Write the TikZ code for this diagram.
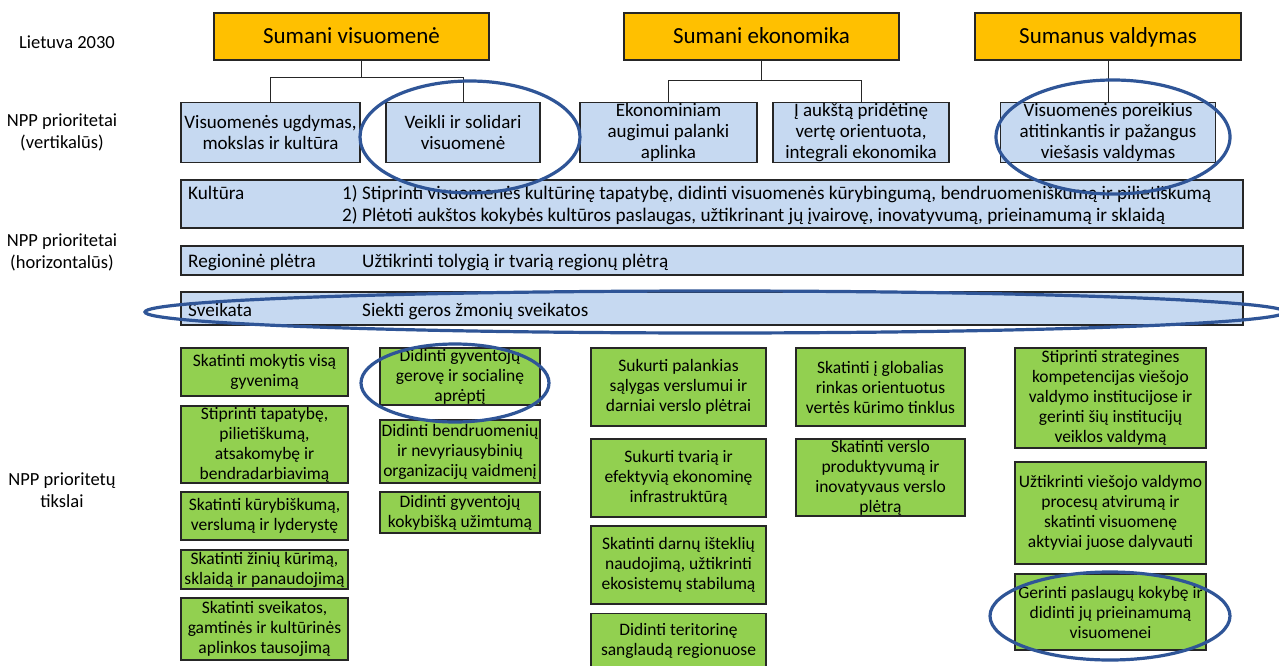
\documentclass[tikz,border=0pt]{standalone}
\usepackage{fontspec}
\setmainfont{Carlito}
\definecolor{gold}{RGB}{255,192,0}
\definecolor{lblue}{RGB}{198,217,241}
\definecolor{lgreen}{RGB}{146,208,80}
\definecolor{ring}{RGB}{47,85,151}
\begin{document}
\begin{tikzpicture}[x=1pt,y=-1pt,
  box/.style={draw=black!85,line width=1.1pt,inner sep=0pt,align=center},
  goldbox/.style={box,fill=gold,font=\fontsize{23}{26}\selectfont,text height=17.5pt,text depth=3.5pt},
  bluebox/.style={box,fill=lblue,font=\fontsize{19}{21}\selectfont},
  band/.style={box,fill=lblue},
  greenbox/.style={box,fill=lgreen,font=\fontsize{17.5}{20}\selectfont},
  lab/.style={align=center,font=\fontsize{18.5}{22}\selectfont},
  btext/.style={anchor=base west,inner sep=0pt,font=\fontsize{19.2}{21}\selectfont},
  conn/.style={draw=black!85,line width=1pt},
  ell/.style={draw=ring,line width=3.2pt}]
\clip (0,0) rectangle (1279,666);
\useasboundingbox (0,0) rectangle (1279,666);
\fill[white] (0,0) rectangle (1279,666);

% left labels
\node[lab] (l1) at (67,42) {Lietuva 2030};
\node[lab] (l2) at (62,132) {NPP prioritetai\\(vertikalūs)};
\node[lab] (l3) at (62,252) {NPP prioritetai\\(horizontalūs)};
\node[lab] (l4) at (62,490) {NPP prioritetų\\tikslai};

% gold
\node[goldbox,minimum width=275,minimum height=47] (G1) at (351.5,36.5) {Sumani visuomenė};
\node[goldbox,minimum width=275,minimum height=47] (G2) at (761.5,36.5) {Sumani ekonomika};
\node[goldbox,minimum width=266,minimum height=47] (G3) at (1108,36.5) {Sumanus valdymas};

% blue
\node[bluebox,minimum width=179,minimum height=60] (B1) at (270.5,132.5) {Visuomenės ugdymas,\\mokslas ir kultūra};
\node[bluebox,minimum width=154,minimum height=60] (B2) at (463,132.5) {Veikli ir solidari\\visuomenė};
\node[bluebox,minimum width=177,minimum height=60] (B3) at (668.5,132.5) {Ekonominiam\\augimui palanki\\aplinka};
\node[bluebox,minimum width=176,minimum height=60] (B4) at (861,132.5) {Į aukštą pridėtinę\\vertę orientuota,\\integrali ekonomika};
\node[bluebox,minimum width=215,minimum height=60] (B5) at (1108,132.5) {Visuomenės poreikius\\atitinkantis ir pažangus\\viešasis valdymas};

% connectors
\draw[conn] ([xshift=9.5pt]G1.south) -- ++(0,17) -| (B1.north);
\draw[conn] ([xshift=9.5pt]G1.south) -- ++(0,17) -| (B2.north);
\draw[conn] (G2.south) -- ++(0,20) -| (B3.north);
\draw[conn] (G2.south) -- ++(0,20) -| (B4.north);
\draw[conn] (G3.south) -- (B5.north);

% bands
\node[band,minimum width=1062,minimum height=48] (K) at (712,204) {};
\node[btext] (Kt) at (188,199) {Kultūra};
\node[btext] (K1) at (342,199) {1) Stiprinti visuomenės kultūrinę tapatybę, didinti visuomenės kūrybingumą, bendruomeniškumą ir pilietiškumą};
\node[btext] (K2) at (342,221) {2) Plėtoti aukštos kokybės kultūros paslaugas, užtikrinant jų įvairovę, inovatyvumą, prieinamumą ir sklaidą};
\node[band,minimum width=1062,minimum height=29] (R) at (712,260.5) {};
\node[btext] (Rt) at (188,267) {Regioninė plėtra};
\node[btext] (R1) at (362,267) {Užtikrinti tolygią ir tvarią regionų plėtrą};
\node[band,minimum width=1062,minimum height=33] (S) at (712,308.5) {};
\node[btext] (St) at (188,316) {Sveikata};
\node[btext] (S1) at (362,316) {Siekti geros žmonių sveikatos};

% green col 1
\node[greenbox,minimum width=167,minimum height=48] (g11) at (264.5,372) {Skatinti mokytis visą\\gyvenimą};
\node[greenbox,minimum width=167,minimum height=77] (g12) at (264.5,444.5) {Stiprinti tapatybę,\\pilietiškumą,\\atsakomybę ir\\bendradarbiavimą};
\node[greenbox,minimum width=167,minimum height=48] (g13) at (264.5,516) {Skatinti kūrybiškumą,\\verslumą ir lyderystę};
\node[greenbox,minimum width=167,minimum height=39] (g14) at (264.5,569.5) {Skatinti žinių kūrimą,\\sklaidą ir panaudojimą};
\node[greenbox,minimum width=167,minimum height=62] (g15) at (264.5,629) {Skatinti sveikatos,\\gamtinės ir kultūrinės\\aplinkos tausojimą};
% col 2
\node[greenbox,minimum width=160,minimum height=57] (g21) at (460,376.5) {Didinti gyventojų\\gerovę ir socialinę\\aprėptį};
\node[greenbox,minimum width=160,minimum height=63] (g22) at (460,451.5) {Didinti bendruomenių\\ir nevyriausybinių\\organizacijų vaidmenį};
\node[greenbox,minimum width=160,minimum height=41] (g23) at (460,512.5) {Didinti gyventojų\\kokybišką užimtumą};
% col 3
\node[greenbox,minimum width=175,minimum height=78] (g31) at (678.5,387) {Sukurti palankias\\sąlygas verslumui ir\\darniai verslo plėtrai};
\node[greenbox,minimum width=175,minimum height=78] (g32) at (678.5,478) {Sukurti tvarią ir\\efektyvią ekonominę\\infrastruktūrą};
\node[greenbox,minimum width=175,minimum height=78] (g33) at (678.5,565) {Skatinti darnų išteklių\\naudojimą, užtikrinti\\ekosistemų stabilumą};
\node[greenbox,minimum width=175,minimum height=78,anchor=north] (g34) at (678.5,613) {Didinti teritorinę\\sanglaudą regionuose\\\strut};
% col 4
\node[greenbox,minimum width=169,minimum height=78] (g41) at (880.5,387) {Skatinti į globalias\\rinkas orientuotus\\vertės kūrimo tinklus};
\node[greenbox,minimum width=169,minimum height=77] (g42) at (880.5,477.5) {Skatinti verslo\\produktyvumą ir\\inovatyvaus verslo\\plėtrą};
% col 5
\node[greenbox,minimum width=191,minimum height=100] (g51) at (1110.5,398) {Stiprinti strategines\\kompetencijas viešojo\\valdymo institucijose ir\\gerinti šių institucijų\\veiklos valdymą};
\node[greenbox,minimum width=191,minimum height=102] (g52) at (1110.5,513) {Užtikrinti viešojo valdymo\\procesų atvirumą ir\\skatinti visuomenę\\aktyviai juose dalyvauti};
\node[greenbox,minimum width=191,minimum height=76] (g53) at (1110.5,612) {Gerinti paslaugų kokybę ir\\didinti jų prieinamumą\\visuomenei};

% rings
\draw[ell] (470,137) ellipse [x radius=110, y radius=56];
\draw[ell] (1113,137) ellipse [x radius=117, y radius=57];
\draw[ell] (715,312) ellipse [x radius=570, y radius=21];
\draw[ell] (455,383) ellipse [x radius=94, y radius=39];
\draw[ell] (1110,616) ellipse [x radius=120, y radius=44];
\end{tikzpicture}
\end{document}
